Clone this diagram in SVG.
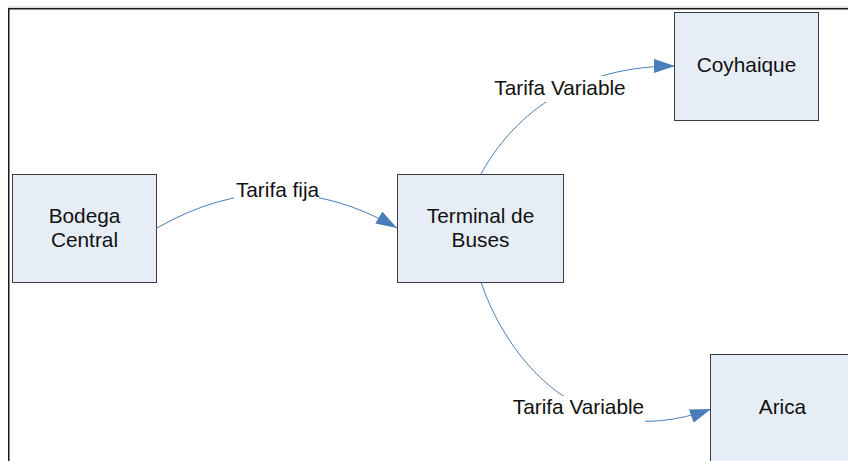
<svg xmlns="http://www.w3.org/2000/svg" width="848" height="461" viewBox="0 0 848 461">
  <style>
    .node rect { fill: #e6edf7; stroke: #3c3c3c; stroke-width: 1; }
    .node text, .label text { font-family: "Liberation Sans", Arial, sans-serif; font-size: 20.8px; fill: #111; text-anchor: middle; }
    .edge { fill: none; stroke: #4a7ebb; stroke-width: 1; }
    .label rect { fill: #ffffff; stroke: none; }
  </style>
  <defs>
    <marker id="arrow" markerUnits="userSpaceOnUse" markerWidth="22" markerHeight="14" refX="21" refY="7" orient="auto">
      <path d="M0,0 L21,7 L0,14 Z" fill="#4a7ebb"/>
    </marker>
  </defs>

  <rect width="848" height="461" fill="#ffffff"/>

  <!-- page frame -->
  <g id="frame">
    <line x1="8" y1="7" x2="848" y2="7" stroke="#c8c8c8" stroke-width="1"/>
    <path d="M8.75,461 L8.75,8.75 L848,8.75" fill="none" stroke="#1a1a1a" stroke-width="1.5"/>
  </g>

  <!-- connectors -->
  <g id="connectors">
    <path class="edge" d="M157,228 Q277,159 397,228" marker-end="url(#arrow)"/>
    <path class="edge" d="M481,174 C505,130 560,66 675,66" marker-end="url(#arrow)"/>
    <path class="edge" d="M481,282 C500,340 570,460 711,409" marker-end="url(#arrow)"/>
  </g>

  <!-- connector labels -->
  <g id="labels" class="label">
    <g id="label-fija">
      <rect x="234" y="179" width="85" height="26"/>
      <text x="277.5" y="197">Tarifa fija</text>
    </g>
    <g id="label-coyhaique">
      <rect x="494" y="76" width="132" height="26"/>
      <text x="560" y="95">Tarifa Variable</text>
    </g>
    <g id="label-arica">
      <rect x="512" y="396" width="133" height="26"/>
      <text x="578.5" y="414">Tarifa Variable</text>
    </g>
  </g>

  <!-- nodes -->
  <g id="node-bodega" class="node">
    <rect x="12.5" y="174.5" width="144" height="108"/>
    <text x="84.5" y="223">Bodega</text>
    <text x="84.5" y="247">Central</text>
  </g>
  <g id="node-terminal" class="node">
    <rect x="397.5" y="174.5" width="166" height="108"/>
    <text x="480.5" y="223">Terminal de</text>
    <text x="480.5" y="247">Buses</text>
  </g>
  <g id="node-coyhaique" class="node">
    <rect x="674.5" y="12.5" width="144" height="108"/>
    <text x="746.5" y="72">Coyhaique</text>
  </g>
  <g id="node-arica" class="node">
    <rect x="710.5" y="354.5" width="150" height="120"/>
    <text x="782.5" y="414">Arica</text>
  </g>
</svg>
